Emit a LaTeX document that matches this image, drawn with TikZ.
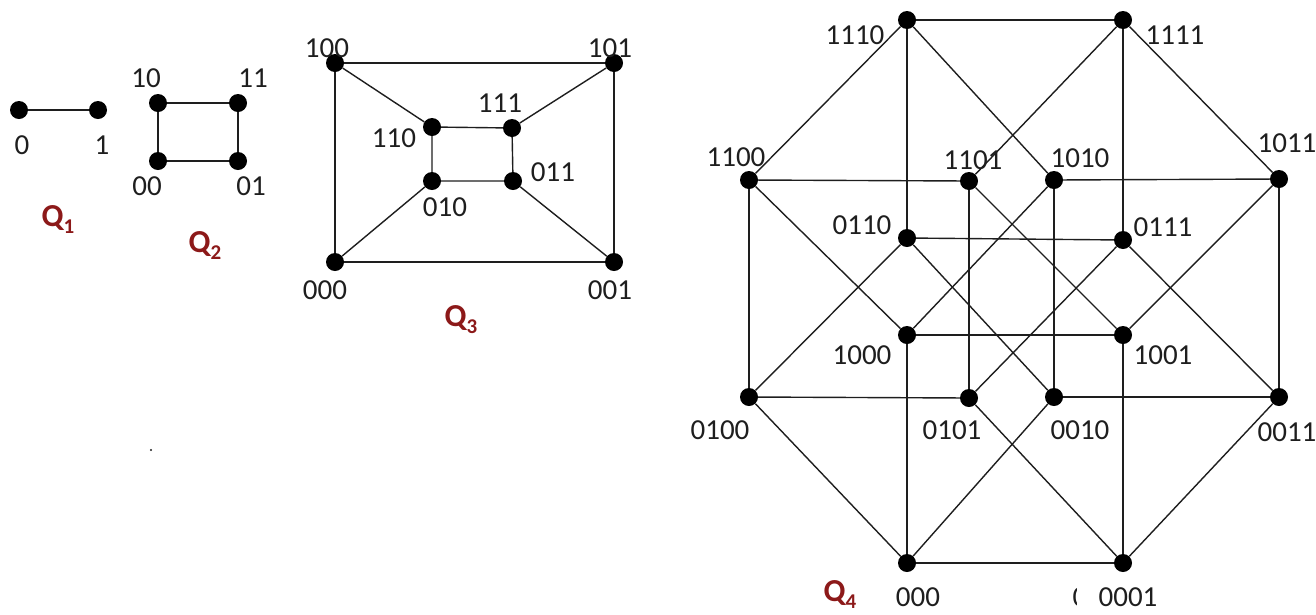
\documentclass[tikz,border=0pt]{standalone}
\usepackage{fontspec}
\setmainfont{Carlito}
\definecolor{qred}{RGB}{140,25,25}
\definecolor{ink}{RGB}{30,30,30}
\begin{document}
\begin{tikzpicture}[x=1pt,y=-1pt,
  v/.style={circle,fill=black,inner sep=0pt,minimum size=18pt},
  e/.style={line width=1.4pt,draw=ink},
  lab/.style={font=\fontsize{29}{32}\selectfont,text=ink,inner sep=0pt},
  ql/.style={font=\fontsize{32}{34}\selectfont\bfseries,text=qred,inner sep=0pt}]
\useasboundingbox (0,0) rectangle (1316,614);
\newcommand{\qsub}[1]{{\fontsize{21}{21}\selectfont\raisebox{-7pt}{#1}}}

% ---------- Q1 ----------
\node[v] (a0) at (19,110) {};
\node[v] (a1) at (98,110) {};
\draw[e] (a0) -- (a1);
\node[lab] (la0) at (22,145) {0};
\node[lab] (la1) at (102,145) {1};
\node[ql] (q1) at (58,220) {Q\qsub{1}};

% ---------- Q2 ----------
\node[v] (b10) at (158,103) {};
\node[v] (b11) at (238,103) {};
\node[v] (b00) at (158,161) {};
\node[v] (b01) at (238,161) {};
\draw[e] (b10) -- (b11) -- (b01) -- (b00) -- (b10);
\node[lab] (lb10) at (146,78) {10};
\node[lab] (lb11) at (253,78) {11};
\node[lab] (lb00) at (147,186) {00};
\node[lab] (lb01) at (251,186) {01};
\node[ql] (q2) at (205,245) {Q\qsub{2}};

% ---------- Q3 ----------
\node[v] (c100) at (335,63) {};
\node[v] (c101) at (614,63) {};
\node[v] (c000) at (335,262) {};
\node[v] (c001) at (614,262) {};
\node[v] (c110) at (432,127) {};
\node[v] (c111) at (512,128) {};
\node[v] (c010) at (432,181) {};
\node[v] (c011) at (513,181) {};
\draw[e] (c100) -- (c101) -- (c001) -- (c000) -- (c100);
\draw[e] (c110) -- (c111) -- (c011) -- (c010) -- (c110);
\draw[e] (c100) -- (c110);
\draw[e] (c101) -- (c111);
\draw[e] (c000) -- (c010);
\draw[e] (c001) -- (c011);
\node[lab] (lc100) at (327,48) {100};
\node[lab] (lc101) at (610,48) {101};
\node[lab] (lc110) at (394,138) {110};
\node[lab] (lc111) at (500,103) {111};
\node[lab] (lc011) at (553,172) {011};
\node[lab] (lc010) at (445,207) {010};
\node[lab] (lc000) at (325,290) {000};
\node[lab] (lc001) at (610,290) {001};
\node[ql] (q3) at (461,320) {Q\qsub{3}};

% ---------- Q4 ----------
\node[v] (d1110) at (907,20) {};
\node[v] (d1111) at (1123,20) {};
\node[v] (d1100) at (749,180) {};
\node[v] (d1101) at (969,181) {};
\node[v] (d1010) at (1054,180) {};
\node[v] (d1011) at (1279,179) {};
\node[v] (d0110) at (907,238) {};
\node[v] (d0111) at (1123,240) {};
\node[v] (d1000) at (907,335) {};
\node[v] (d1001) at (1123,335) {};
\node[v] (d0100) at (749,397) {};
\node[v] (d0101) at (969,398) {};
\node[v] (d0010) at (1054,397) {};
\node[v] (d0011) at (1279,397) {};
\node[v] (d0000) at (907,563) {};
\node[v] (d0001) at (1123,563) {};

\draw[e] (d1110) -- (d1111);
\draw[e] (d1110) -- (d1100);
\draw[e] (d1110) -- (d0110);
\draw[e] (d1110) -- (d1010);
\draw[e] (d1111) -- (d1101);
\draw[e] (d1111) -- (d0111);
\draw[e] (d1111) -- (d1011);
\draw[e] (d1100) -- (d1101);
\draw[e] (d1010) -- (d1011);
\draw[e] (d1100) -- (d0100);
\draw[e] (d1100) -- (d1000);
\draw[e] (d1101) -- (d0101);
\draw[e] (d1101) -- (d1001);
\draw[e] (d1010) -- (d0010);
\draw[e] (d1010) -- (d1000);
\draw[e] (d1011) -- (d0011);
\draw[e] (d1011) -- (d1001);
\draw[e] (d0110) -- (d0111);
\draw[e] (d0110) -- (d0100);
\draw[e] (d0110) -- (d0010);
\draw[e] (d0111) -- (d0101);
\draw[e] (d0111) -- (d0011);
\draw[e] (d1000) -- (d1001);
\draw[e] (d1000) -- (d0000);
\draw[e] (d1001) -- (d0001);
\draw[e] (d0100) -- (d0101);
\draw[e] (d0010) -- (d0011);
\draw[e] (d0100) -- (d0000);
\draw[e] (d0101) -- (d0001);
\draw[e] (d0010) -- (d0000);
\draw[e] (d0011) -- (d0001);
\draw[e] (d0000) -- (d0001);

\node[lab] (ld1110) at (855,35) {1110};
\node[lab] (ld1111) at (1175,35) {1111};
\node[lab] (ld1100) at (736,157) {1100};
\node[lab] (ld1101) at (973,160) {1101};
\node[lab] (ld1010) at (1080,158) {1010};
\node[lab] (ld1011) at (1287,143) {1011};
\node[lab] (ld0110) at (862,225) {0110};
\node[lab] (ld0111) at (1163,227) {0111};
\node[lab] (ld1000) at (862,355) {1000};
\node[lab] (ld1001) at (1163,355) {1001};
\node[lab] (ld0100) at (720,430) {0100};
\node[lab] (ld0101) at (952,430) {0101};
\node[lab] (ld0010) at (1080,430) {0010};
\node[lab] (ld0011) at (1287,432) {0011};
\node[lab] (ld0000) at (918,597) {000};
\node[lab] (ld0001) at (1128,597) {0001};
\begin{scope}
  \clip (1060,575) rectangle (1076,614);
  \node[lab] (ldcut) at (1080,597) {0};
\end{scope}
\node[ql] (q4) at (840,594) {Q\qsub{4}};

% stray dot
\fill[ink] (151,450) circle (1.2);
\end{tikzpicture}
\end{document}
